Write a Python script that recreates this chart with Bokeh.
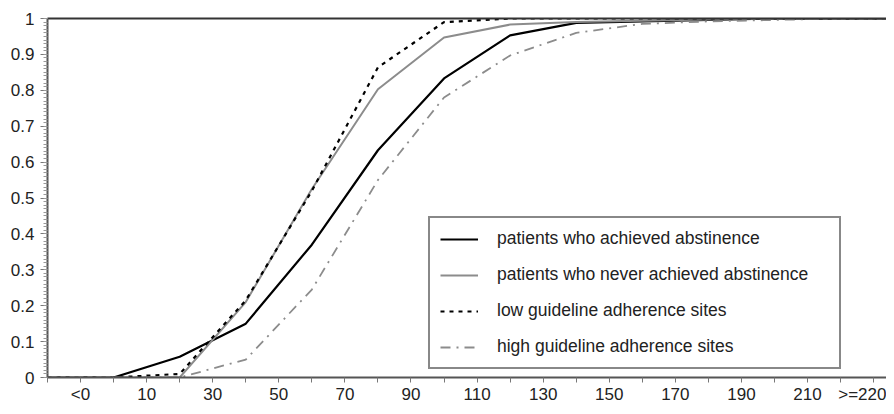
from bokeh.plotting import figure
from bokeh.models import Range1d, FixedTicker, Legend, LegendItem, LinearAxis
from bokeh.embed import file_html
from bokeh.resources import INLINE

# Data (days, cumulative proportion)
x_days = [-20, 0, 20, 40, 60, 80, 100, 120, 140, 160, 180, 200, 220, 240]
achieved = [0, 0, 0.058, 0.15, 0.37, 0.633, 0.833, 0.953, 0.988, 0.992, 0.996, 1.0, 1.0, 1.0]
never_achieved = [0, 0, 0, 0.21, 0.525, 0.803, 0.947, 0.983, 0.99, 0.994, 0.997, 1.0, 1.0, 1.0]
low_adherence = [0, 0, 0.01, 0.215, 0.52, 0.864, 0.99, 1.0, 1.0, 1.0, 1.0, 1.0, 1.0, 1.0]
high_adherence = [0, 0, 0, 0.05, 0.245, 0.55, 0.78, 0.897, 0.96, 0.985, 0.992, 0.996, 1.0, 1.0]

x_ticks = list(range(-20, 240, 10))
x_tick_labels = {-10: "<0", 10: "10", 30: "30", 50: "50", 70: "70", 90: "90", 110: "110",
                 130: "130", 150: "150", 170: "170", 190: "190", 210: "210", 230: ">=220"}
y_ticks = [0, 0.1, 0.2, 0.3, 0.4, 0.5, 0.6, 0.7, 0.8, 0.9, 1.0]
y_tick_labels = {0: "0", 1: "1"}

FONT = "Liberation Sans"

p = figure(width=886, height=406, output_backend="svg", toolbar_location=None,
           x_range=Range1d(-20, 233.9), y_range=Range1d(0, 1),
           min_border_left=47, min_border_right=0, min_border_top=18, min_border_bottom=28,
           x_axis_location=None, y_axis_location=None)
p.outline_line_color = None
p.grid.visible = False
p.background_fill_color = "white"
p.border_fill_color = "white"

# Axes
xaxis = LinearAxis(ticker=FixedTicker(ticks=x_ticks))
xaxis.major_label_overrides = {t: x_tick_labels.get(t, "") for t in x_ticks}
xaxis.axis_line_color = "#555555"
xaxis.axis_line_width = 2
xaxis.major_tick_line_color = "#777777"
xaxis.major_tick_line_width = 1
xaxis.major_tick_out = 5
xaxis.major_tick_in = 0
xaxis.minor_tick_line_color = None
xaxis.major_label_standoff = 2
xaxis.major_label_text_font = FONT
xaxis.major_label_text_font_size = "17px"
xaxis.major_label_text_color = "#222222"
p.add_layout(xaxis, "below")

yaxis = LinearAxis(ticker=FixedTicker(ticks=y_ticks,
                                      minor_ticks=[i / 100 for i in range(0, 101)]))
yaxis.major_label_overrides = {t: (y_tick_labels.get(t) or ("%.1f" % t)) for t in y_ticks}
yaxis.axis_line_color = "#555555"
yaxis.axis_line_width = 2
yaxis.major_tick_line_color = "#777777"
yaxis.major_tick_out = 7
yaxis.major_tick_in = 0
yaxis.minor_tick_line_color = "#999999"
yaxis.minor_tick_out = 4
yaxis.minor_tick_in = 0
yaxis.major_label_standoff = 6
yaxis.major_label_text_font = FONT
yaxis.major_label_text_font_size = "17px"
yaxis.major_label_text_color = "#222222"
p.add_layout(yaxis, "left")

top = LinearAxis(ticker=FixedTicker(ticks=[]), major_label_text_font_size="0px")
top.axis_line_color = "#333333"
top.axis_line_width = 2
top.major_tick_line_color = None
top.minor_tick_line_color = None
p.add_layout(top, "above")

r1 = p.line(x_days, achieved, line_color="black", line_width=2.2)
r2 = p.line(x_days, never_achieved, line_color="#8c8c8c", line_width=2)
r3 = p.line(x_days, low_adherence, line_color="black", line_width=2.2, line_dash="4 5")
r4 = p.line(x_days, high_adherence, line_color="#8c8c8c", line_width=1.8, line_dash="10 6 2 6")

legend = Legend(items=[
    LegendItem(label="patients who achieved abstinence", renderers=[r1]),
    LegendItem(label="patients who never achieved abstinence", renderers=[r2]),
    LegendItem(label="low guideline adherence sites", renderers=[r3]),
    LegendItem(label="high guideline adherence sites", renderers=[r4]),
], location=(381, 8))
legend.padding = 10
legend.spacing = 15
legend.margin = 0
legend.glyph_width = 38
legend.glyph_height = 20
legend.label_height = 20
legend.label_width = 332
legend.label_standoff = 19
legend.label_text_font = FONT
legend.label_text_font_size = "17.5px"
legend.label_text_color = "#222222"
legend.border_line_color = "#111111"
legend.border_line_width = 2
legend.background_fill_alpha = 1
p.add_layout(legend, "center")

open("out.html", "w").write(file_html(p, INLINE))
